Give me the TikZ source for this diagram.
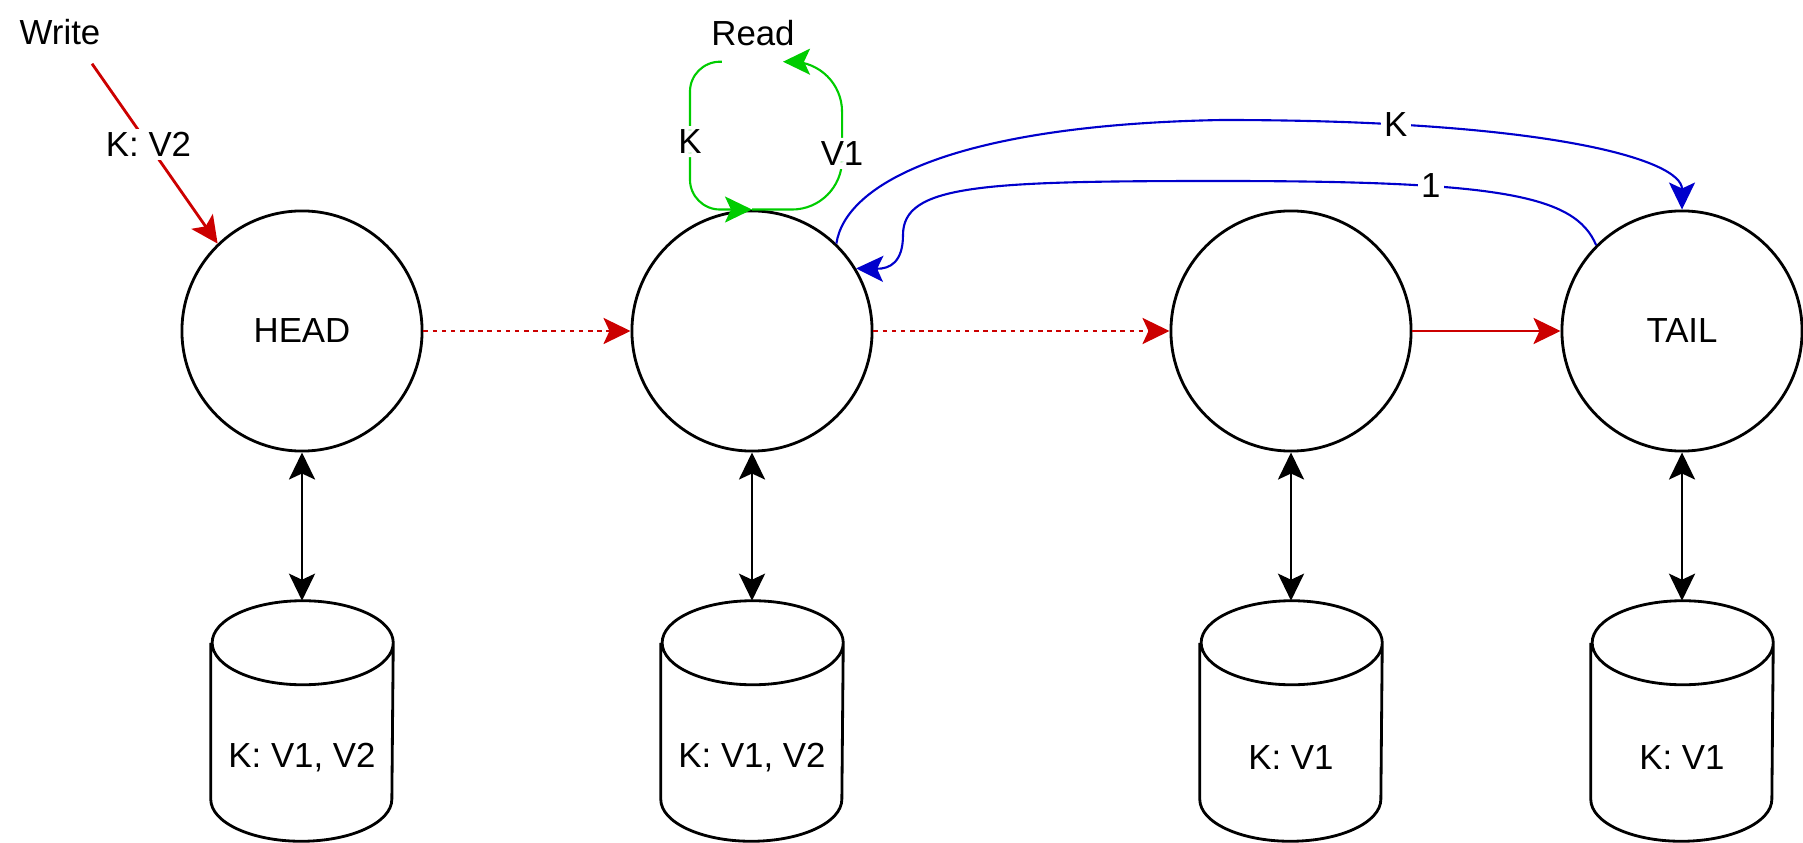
\documentclass[tikz,border=0pt]{standalone}
\usepackage{fontspec}
\setmainfont{Liberation Sans}
\usetikzlibrary{arrows.meta}
\definecolor{wred}{RGB}{204,0,0}
\definecolor{rgreen}{RGB}{0,204,0}
\definecolor{kblue}{RGB}{0,0,204}

\begin{document}
\begin{tikzpicture}[x=0.01cm, y=-0.01cm,
    font=\fontsize{9.9}{12}\selectfont,
    arr/.style={-{Stealth[length=0.27cm, width=0.26cm, inset=0.06cm]}},
    dbl/.style={{Stealth[length=0.27cm, width=0.26cm, inset=0.06cm]}-{Stealth[length=0.27cm, width=0.26cm, inset=0.06cm]}},
    peer/.style={circle, draw, line width=0.8pt, minimum size=2.4cm, inner sep=0pt},
    store/.style={rectangle, minimum width=1.81cm, minimum height=2.39cm, inner sep=0pt},
    lbl/.style={fill=white, text=black, inner sep=1pt}]
    \useasboundingbox (0,0) rectangle (1803,843);

    % Chain nodes
    \foreach \x/\name/\txt in {302/head/HEAD, 752/n2/, 1291/n3/, 1682/tail/TAIL} {
        \node[peer] (\name) at (\x,331) {\txt};
    }

    % Local stores
    \foreach \x/\name/\txt in {302/db1/{K: V1, V2}, 752/db2/{K: V1, V2}, 1291/db3/{K: V1}, 1682/db4/{K: V1}} {
        \node[store, label={[yshift=-0.37cm]center:\txt}] (\name) at (\x,721) {};
        \draw[line width=0.8pt] ([yshift=-0.42cm]\name.north west) -- ([yshift=0.42cm]\name.south west)
            arc[start angle=180, end angle=360, x radius=0.905cm, y radius=0.42cm]
            -- ([yshift=-0.42cm]\name.north east)
            arc[start angle=0, end angle=180, x radius=0.905cm, y radius=0.42cm]
            arc[start angle=180, end angle=360, x radius=0.905cm, y radius=0.42cm];
    }
    \foreach \a/\b in {head/db1, n2/db2, n3/db3, tail/db4} {
        \draw[dbl, line width=0.8pt] (\a.south) -- (\b.north);
    }

    % Propagation along the chain
    \draw[arr, wred, line width=0.8pt, dash pattern=on 1.3pt off 1.3pt] (head.east) -- (n2.west);
    \draw[arr, wred, line width=0.8pt, dash pattern=on 1.3pt off 1.3pt] (n2.east) -- (n3.west);
    \draw[arr, wred, line width=0.8pt] (n3.east) -- (tail.west);

    % Write
    \node[minimum height=0.62cm, inner sep=0pt] (write) at (60,32) {Write};
    \draw[arr, wred, line width=0.8pt] ([xshift=0.32cm]write.south) -- node[lbl, pos=0.45] {K: V2} (head.134);

    % Read
    \node[minimum width=1.22cm, minimum height=0.56cm, inner sep=0pt] (read) at (753,33) {Read};
    \draw[arr, rgreen, line width=0.6pt, rounded corners=0.3cm] ([xshift=-0.31cm]read.south) -| node[lbl, pos=0.77] {K} ([xshift=-0.62cm]n2.north) -- (n2.north);
    \draw[arr, rgreen, line width=0.6pt, rounded corners=0.5cm] (n2.north) -| node[lbl, pos=0.69] {V1} ([xshift=0.89cm]read.south) -- ([xshift=0.30cm]read.south);

    % Query to the tail
    \draw[arr, kblue, line width=0.6pt] (n2.46) .. controls (845,185) and (950,125) .. (1222,120) .. controls (1550,120) and (1682,160) .. node[lbl, pos=0.2] {K} (tail.north);
    \draw[arr, kblue, line width=0.6pt] (tail.135) .. controls (1575,195) and (1500,181) .. node[lbl, pos=0.68] {1} (1220,181) .. controls (980,181) and (903,185) .. (903,235) .. controls (903,262) and (890,269) .. (n2.31);
\end{tikzpicture}
\end{document}
